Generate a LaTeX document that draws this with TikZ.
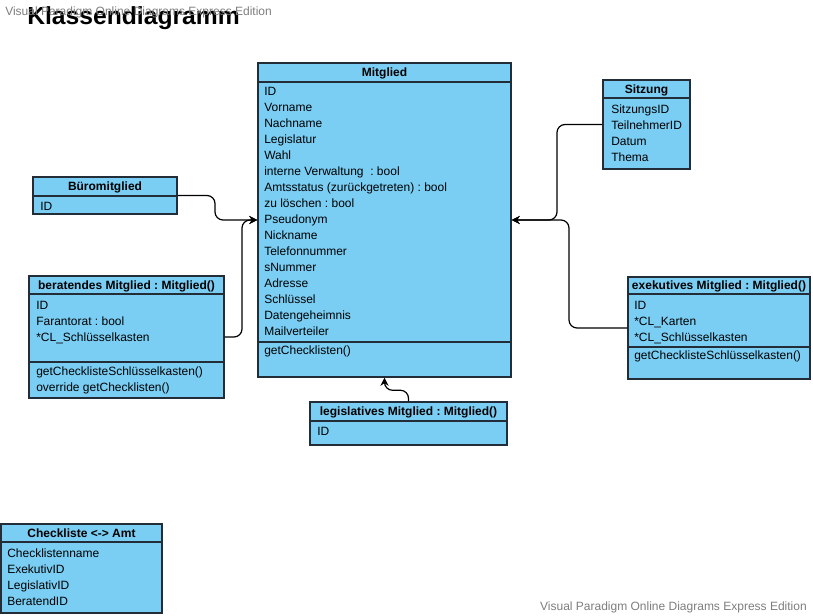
\documentclass[tikz,border=0pt]{standalone}
\usepackage{fontspec}
\setmainfont{Liberation Sans}
\frenchspacing
\definecolor{umlblue}{RGB}{122, 206, 244}
\definecolor{umledge}{RGB}{35, 45, 55}
\definecolor{watermarkgray}{RGB}{125, 125, 125}
\usetikzlibrary{
  arrows.meta,
  fit,
  positioning,
}
\tikzset{
  >={Stealth[length=6pt,width=6pt]},
  classbox/.style={draw=umledge,line width=1.1pt,fill=umlblue,rectangle,inner sep=0pt},
  partbox/.style={draw=umledge,line width=1.1pt,rectangle,inner sep=0pt},
  headtext/.style={inner sep=0pt,text height=6.5pt,text depth=0pt,font=\fontsize{9}{11}\selectfont\bfseries},
  rowtext/.style={anchor=west,inner sep=0pt,text height=6.5pt,text depth=0pt,font=\fontsize{9}{11}\selectfont},
  link/.style={->,line width=0.9pt,rounded corners=6},
  watermark/.style={inner sep=0pt,text=watermarkgray,font=\fontsize{9}{11}\selectfont},
}
\begin{document}
\begin{tikzpicture}[x=0.75pt,y=-0.75pt]
      \useasboundingbox (0,0) rectangle (813,616);
      \node[inner sep=0pt,anchor=base west,font=\fontsize{18.5}{20}\selectfont\bfseries] (title) at (27,25) {Klassendiagramm};

      \node[classbox,fit={(258,63) (511,377)}] (mitglied) {};
      \node[partbox,fit={(258,63) (511,82)}] (mitglied-h) {};
      \node[partbox,fit={(258,342) (511,377)}] (mitglied-m) {};
      \node[headtext] (mitglied-t) at (mitglied-h.center) {Mitglied};
      \foreach \t [count=\i] in {ID,Vorname,Nachname,Legislatur,Wahl,interne Verwaltung\ \ : bool,Amtsstatus (zurückgetreten) : bool,zu löschen : bool,Pseudonym,Nickname,Telefonnummer,sNummer,Adresse,Schlüssel,Datengeheimnis,Mailverteiler}
        \node[rowtext] (mitglied-a\i) at (264,75+16*\i) {\t};
      \node[rowtext] (mitglied-o1) at (264,350) {getChecklisten()};

      \node[classbox,fit={(33,177) (177,214)}] (buero) {};
      \node[partbox,fit={(33,177) (177,196)}] (buero-h) {};
      \node[headtext] (buero-t) at (buero-h.center) {Büromitglied};
      \node[rowtext] (buero-a1) at (40,206) {ID};

      \node[classbox,fit={(29,276) (224,398)}] (berat) {};
      \node[partbox,fit={(29,276) (224,294)}] (berat-h) {};
      \node[partbox,fit={(29,362) (224,398)}] (berat-m) {};
      \node[headtext] (berat-t) at (berat-h.center) {beratendes Mitglied : Mitglied()};
      \foreach \t [count=\i] in {ID,Farantorat : bool,*CL\_Schlüsselkasten}
        \node[rowtext] (berat-a\i) at (36,289+16*\i) {\t};
      \node[rowtext] (berat-o1) at (36,371) {getChecklisteSchlüsselkasten()};
      \node[rowtext] (berat-o2) at (36,387) {override getChecklisten()};

      \node[classbox,fit={(603,80) (690,169)}] (sitzung) {};
      \node[partbox,fit={(603,80) (690,98)}] (sitzung-h) {};
      \node[headtext] (sitzung-t) at (sitzung-h.center) {Sitzung};
      \foreach \t [count=\i] in {SitzungsID,TeilnehmerID,Datum,Thema}
        \node[rowtext] (sitzung-a\i) at (611,93+16*\i) {\t};

      \node[classbox,fit={(628,277) (810,379)}] (exek) {};
      \node[partbox,fit={(628,277) (810,294)}] (exek-h) {};
      \node[partbox,fit={(628,347) (810,379)}] (exek-m) {};
      \node[headtext] (exek-t) at (exek-h.center) {exekutives Mitglied : Mitglied()};
      \foreach \t [count=\i] in {ID,*CL\_Karten,*CL\_Schlüsselkasten}
        \node[rowtext] (exek-a\i) at (634,289+16*\i) {\t};
      \node[rowtext] (exek-o1) at (634,355) {getChecklisteSchlüsselkasten()};

      \node[classbox,fit={(310,402) (507,445)}] (legis) {};
      \node[partbox,fit={(310,402) (507,421)}] (legis-h) {};
      \node[headtext] (legis-t) at (legis-h.center) {legislatives Mitglied : Mitglied()};
      \node[rowtext] (legis-a1) at (317,431) {ID};

      \node[classbox,fit={(1,524) (162,613)}] (amt) {};
      \node[partbox,fit={(1,524) (162,542)}] (amt-h) {};
      \node[headtext] (amt-t) at (amt-h.center) {Checkliste <-> Amt};
      \foreach \t [count=\i] in {Checklistenname,ExekutivID,LegislativID,BeratendID}
        \node[rowtext] (amt-a\i) at (7,537+16*\i) {\t};

      \draw[link] (buero.east) -| (215,220) -- (mitglied.west);
      \draw[link] (berat.east) -| (242,220) -- (mitglied.west);
      \draw[link] (sitzung.west) -| (557,220) -- (mitglied.east);
      \draw[link] (exek.west) -| (569,220) -- (mitglied.east);
      \draw[link] (legis.north) -- ++(0,-11) -| (mitglied.south);

      \node[watermark,anchor=base west] (wm-top) at (5,16) {Visual Paradigm Online Diagrams Express Edition};
      \node[watermark,anchor=base east] (wm-bottom) at (807,610) {Visual Paradigm Online Diagrams Express Edition};
\end{tikzpicture}
\end{document}
